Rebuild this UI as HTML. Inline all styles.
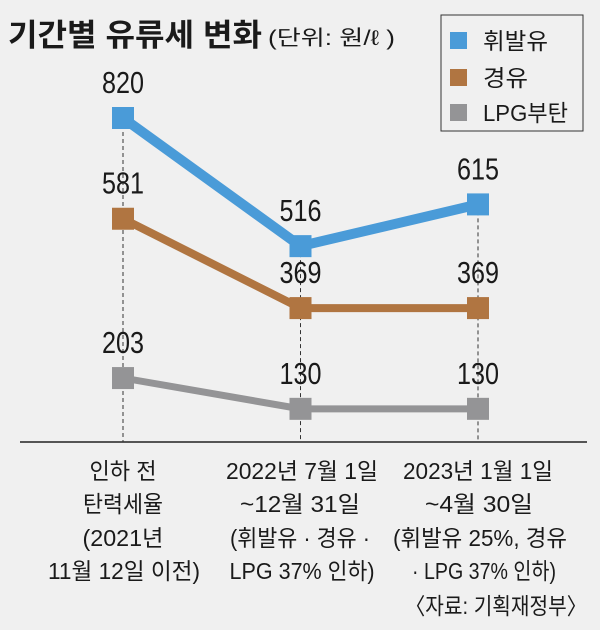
<!DOCTYPE html>
<html><head><meta charset="utf-8"><style>
html,body{margin:0;padding:0;background:#f0f0f0;}
svg{display:block;}
text{font-family:"Liberation Sans Narrow","Liberation Sans","Noto Sans CJK KR",sans-serif;fill:#1a1a1a;}
</style></head><body>
<svg id="chart" width="600" height="630" viewBox="0 0 600 630" xmlns="http://www.w3.org/2000/svg">
<rect width="600" height="630" fill="#f0f0f0"/>
<text x="8" y="46" font-size="31" font-weight="bold" textLength="254" lengthAdjust="spacingAndGlyphs">기간별 유류세 변화</text>
<text x="268" y="45" font-size="21" textLength="127" lengthAdjust="spacingAndGlyphs">(단위: 원/ℓ )</text>
<g>
<rect x="441" y="15" width="142" height="116" fill="none" stroke="#333" stroke-width="1"/>
<rect x="450" y="32" width="17" height="17" fill="#4a9bd8"/>
<text x="483" y="49" font-size="23" textLength="65" lengthAdjust="spacingAndGlyphs">휘발유</text>
<rect x="450" y="69" width="17" height="17" fill="#b07541"/>
<text x="483" y="86" font-size="23" textLength="45" lengthAdjust="spacingAndGlyphs">경유</text>
<rect x="450" y="104" width="17" height="17" fill="#949496"/>
<text x="483" y="121" font-size="23" textLength="85" lengthAdjust="spacingAndGlyphs">LPG부탄</text>
</g>
<line x1="20" y1="442" x2="587" y2="442" stroke="#555" stroke-width="2"/>
<g id="plot"></g>
<g>
<text x="123" y="479" font-size="23" text-anchor="middle" textLength="67" lengthAdjust="spacingAndGlyphs">인하 전</text>
<text x="123" y="512" font-size="23" text-anchor="middle" textLength="80" lengthAdjust="spacingAndGlyphs">탄력세율</text>
<text x="123" y="546" font-size="23" text-anchor="middle" textLength="81" lengthAdjust="spacingAndGlyphs">(2021년</text>
<text x="124" y="579" font-size="23" text-anchor="middle" textLength="152" lengthAdjust="spacingAndGlyphs">11월 12일 이전)</text>
<text x="302" y="479" font-size="23" text-anchor="middle" textLength="152" lengthAdjust="spacingAndGlyphs">2022년 7월 1일</text>
<text x="300" y="512" font-size="23" text-anchor="middle" textLength="120" lengthAdjust="spacingAndGlyphs">~12월 31일</text>
<text x="300" y="546" font-size="23" text-anchor="middle" textLength="140" lengthAdjust="spacingAndGlyphs">(휘발유 · 경유 ·</text>
<text x="302" y="579" font-size="23" text-anchor="middle" textLength="145" lengthAdjust="spacingAndGlyphs">LPG 37% 인하)</text>
<text x="478" y="479" font-size="23" text-anchor="middle" textLength="150" lengthAdjust="spacingAndGlyphs">2023년 1월 1일</text>
<text x="479" y="512" font-size="23" text-anchor="middle" textLength="108" lengthAdjust="spacingAndGlyphs">~4월 30일</text>
<text x="480" y="546" font-size="23" text-anchor="middle" textLength="174" lengthAdjust="spacingAndGlyphs">(휘발유 25%, 경유</text>
<text x="484" y="579" font-size="23" text-anchor="middle" textLength="144" lengthAdjust="spacingAndGlyphs">· LPG 37% 인하)</text>
</g>
<text x="587" y="614" font-size="23" text-anchor="end" textLength="182" lengthAdjust="spacingAndGlyphs">〈자료: 기획재정부〉</text>
</svg>
<script>
const categories = ["인하 전", "2022년 7월 1일~12월 31일", "2023년 1월 1일~4월 30일"];
const gasoline = [820, 516, 615];
const diesel = [581, 369, 369];
const lpg = [203, 130, 130];
const seriesNames = ["휘발유", "경유", "LPG부탄"];

const NS = "http://www.w3.org/2000/svg";
const plot = document.getElementById("plot");
function xScale(i){ return 123 + i * 177.5; }
function yScale(v){ return 118 + (820 - v) * 0.4215; }
function mk(tag, attrs){ const e = document.createElementNS(NS, tag); for (const k in attrs) e.setAttribute(k, attrs[k]); return e; }

categories.forEach((c, i) => {
  const top = yScale(Math.max(gasoline[i], diesel[i], lpg[i]));
  const l = mk("line", {x1: xScale(i), y1: top, x2: xScale(i), y2: 442, stroke: "#333", "stroke-width": 1, "stroke-dasharray": "4,3"});
  
  
  plot.appendChild(l);
});

const series = [
  {vals: gasoline, color: "#4a9bd8", w: 10, key: "gasoline"},
  {vals: diesel, color: "#b07541", w: 8, key: "diesel"},
  {vals: lpg, color: "#949496", w: 7, key: "lpg"}
];
series.forEach(s => {
  const pts = s.vals.map((v, i) => xScale(i) + "," + yScale(v)).join(" ");
  const pl = mk("polyline", {points: pts, fill: "none", stroke: s.color, "stroke-width": s.w});
  
  
  plot.appendChild(pl);
  s.vals.forEach((v, i) => {
    const r = mk("rect", {x: xScale(i) - 11, y: yScale(v) - 11, width: 22, height: 22, fill: s.color});
    
    
    plot.appendChild(r);
    const t = mk("text", {x: xScale(i), y: yScale(v) - 25, "font-size": 31, "text-anchor": "middle", textLength: 42, lengthAdjust: "spacingAndGlyphs"});
    t.textContent = String(v);
    
    
    plot.appendChild(t);
  });
});
</script>
</body></html>
